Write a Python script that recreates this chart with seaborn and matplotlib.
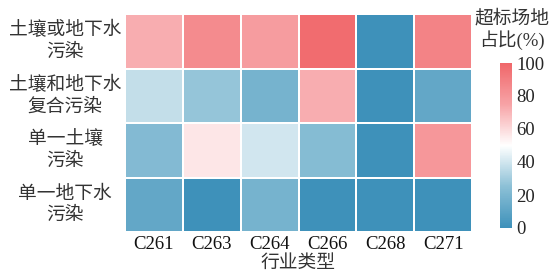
import numpy as np
import pandas as pd
import matplotlib
matplotlib.use("Agg")
import matplotlib.pyplot as plt
import seaborn as sns
from matplotlib.colors import LinearSegmentedColormap

industries = ["C261", "C263", "C264", "C266", "C268", "C271"]
pollution_types = ["土壤或地下水\n污染", "土壤和地下水\n复合污染", "单一土壤\n污染", "单一地下水\n污染"]

soil_or_water = [72, 85, 78, 98, 0, 88]
soil_and_water = [37, 27, 18, 72, 0, 12]
soil_only = [22, 57, 40, 23, 0, 80]
water_only = [12, 0, 18, 0, 0, 0]

df = pd.DataFrame([soil_or_water, soil_and_water, soil_only, water_only],
                  index=pollution_types, columns=industries)

sns.set_theme(style="white")
plt.rcParams['font.family'] = ['Liberation Serif', 'Noto Sans CJK SC']

cmap = LinearSegmentedColormap.from_list(
    "bwr_soft", ["#3e91ba", "#8cc0d6", "#ffffff", "#f7a3a6", "#f0676a"])

fig = plt.figure(figsize=(5.49, 2.74), dpi=100)
ax = fig.add_axes([125/549, 1-232/274, (472-125)/549, (232-14)/274])
cax = fig.add_axes([500/549, 1-228/274, 12/549, (228-63)/274])

sns.heatmap(df, ax=ax, cbar_ax=cax, cmap=cmap, vmin=0, vmax=100,
            linewidths=1.2, linecolor="white")

ax.tick_params(axis="both", length=0)
ax.set_yticklabels(pollution_types, rotation=0, ha="center", fontsize=13.5,
                   color="#333333", linespacing=1.35)
ax.tick_params(axis="y", pad=43)
ax.set_xticklabels(industries, rotation=0, fontsize=13.5, color="#111111")
ax.tick_params(axis="x", pad=3)
ax.set_xlabel("行业类型", fontsize=13.5, labelpad=1, color="#333333")
ax.set_ylabel("")

cax.tick_params(length=0, labelsize=13.5, pad=3)
cax.set_yticks([0, 20, 40, 60, 80, 100])
for s in cax.spines.values():
    s.set_visible(False)
fig.text(512/549, 1-30/274, "超标场地\n占比(%)", ha="center", va="center",
         fontsize=13.5, linespacing=1.15, color="#333333")

fig.savefig("out.png", dpi=100)
